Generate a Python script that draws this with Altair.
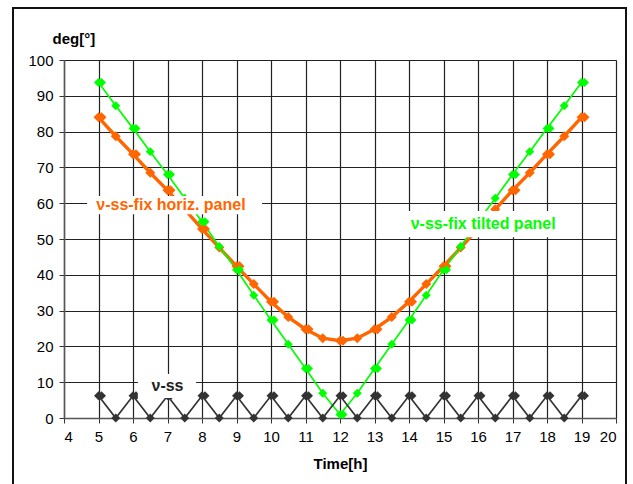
import altair as alt
import pandas as pd

# Hour of day (every half hour)
hours = [5, 5.5, 6, 6.5, 7, 7.5, 8, 8.5, 9, 9.5, 10, 10.5, 11, 11.5, 12,
         12.5, 13, 13.5, 14, 14.5, 15, 15.5, 16, 16.5, 17, 17.5, 18, 18.5, 19]

# Incidence angles in degrees
horiz_panel = [84.0, 78.7, 73.7, 68.5, 63.6, 58.3, 52.8, 47.6, 42.4, 37.4, 32.5, 28.2, 24.8, 22.3, 21.6,
               22.3, 24.8, 28.2, 32.5, 37.4, 42.4, 47.6, 52.8, 58.3, 63.6, 68.5, 73.7, 78.7, 84.0]
tilted_panel = [93.7, 87.2, 80.9, 74.4, 68.0, 61.4, 54.8, 47.9, 41.4, 34.3, 27.4, 20.6, 13.8, 6.9, 1.0,
                6.9, 13.8, 20.6, 27.4, 34.3, 41.4, 47.9, 54.8, 61.4, 68.0, 74.4, 80.9, 87.2, 93.7]
v_ss = [6.2, 0, 6.2, 0, 6.2, 0, 6.2, 0, 6.2, 0, 6.2, 0, 6.2, 0, 6.2,
        0, 6.2, 0, 6.2, 0, 6.2, 0, 6.2, 0, 6.2, 0, 6.2, 0, 6.2]

series_names = ["horiz", "tilted", "vss"]
series_colors = ["#FF6600", "#00FF00", "#333333"]

# Axis tick values
x_ticks = [4, 5, 6, 7, 8, 9, 10, 11, 12, 13, 14, 15, 16, 17, 18, 19, 20]
y_ticks = [0, 10, 20, 30, 40, 50, 60, 70, 80, 90, 100]

# Series labels: text, position, colour and white box extent
label_text = ["ν-ss-fix horiz. panel", "ν-ss-fix tilted panel", "ν-ss"]
label_x = [7.1, 16.15, 7.0]
label_y = [59.6, 54.1, 8.9]
label_color = ["#FF6600", "#00FF00", "#222222"]
box_x1 = [4.67, 13.88, 6.14]
box_x2 = [9.74, 18.38, 7.83]
box_y1 = [56.9, 50.5, 5.6]
box_y2 = [62.0, 57.8, 12.3]

rows = []
for name, vals in zip(series_names, [horiz_panel, tilted_panel, v_ss]):
    for t, v in zip(hours, vals):
        rows.append({"t": t, "v": v, "series": name, "hourly": float(t).is_integer()})
df = pd.DataFrame(rows)

labels = pd.DataFrame({
    "text": label_text, "x": label_x, "y": label_y, "color": label_color,
    "x1": box_x1, "x2": box_x2, "y1": box_y1, "y2": box_y2,
})

FONT = "Liberation Sans"

xscale = alt.Scale(domain=[4, 20], nice=False, zero=False)
yscale = alt.Scale(domain=[0, 100], nice=False)
color = alt.Color("series:N", scale=alt.Scale(domain=series_names, range=series_colors), legend=None)

xaxis = alt.Axis(values=x_ticks, title="Time[h]", grid=True, gridColor="#222222",
                 gridWidth=1.2, domainColor="#555555", domainWidth=1.5, tickColor="#333333",
                 tickSize=5, labelPadding=6, labelFontSize=15, labelColor="#000000",
                 labelOverlap=False, titleFontSize=15, titleFontWeight="bold", titleColor="#000000",
                 titleY=45, titleBaseline="middle", labelFont=FONT, titleFont=FONT)
yaxis = alt.Axis(values=y_ticks, title="deg[°]", grid=True, gridColor="#222222",
                 gridWidth=1.2, domainColor="#555555", domainWidth=1.5, tickColor="#333333",
                 tickSize=5, labelPadding=6, labelFontSize=15, labelColor="#000000",
                 labelOverlap=False, titleFontSize=15, titleFontWeight="bold", titleColor="#000000",
                 titleAngle=0, titleX=-12, titleY=-22, titleAlign="left", titleBaseline="middle",
                 labelFont=FONT, titleFont=FONT)

X = alt.X("t:Q", scale=xscale, axis=xaxis)
Y = alt.Y("v:Q", scale=yscale, axis=yaxis)

base = alt.Chart(df)

lines = base.mark_line().encode(
    x=X, y=Y, color=color,
    strokeWidth=alt.condition(alt.datum.series == "horiz", alt.value(3.4), alt.value(1.7)),
    detail="series:N",
)

marker_size = alt.condition(alt.datum.series == "horiz", alt.value(100), alt.value(80))

points = base.mark_point(shape="diamond", filled=True, opacity=1).encode(
    x=X, y=Y, color=color, size=marker_size,
)

# second marker drawn at each full hour
hourly_points = base.transform_filter(alt.datum.hourly).mark_point(
    shape="diamond", filled=True, opacity=1
).encode(
    x=X, y=Y, color=color, xOffset=alt.value(3), size=marker_size,
)

boxes = alt.Chart(labels).mark_rect(fill="white", stroke=None).encode(
    x=alt.X("x1:Q", scale=xscale, axis=xaxis), x2="x2:Q",
    y=alt.Y("y1:Q", scale=yscale, axis=yaxis), y2="y2:Q",
)

texts = alt.Chart(labels).mark_text(font=FONT, fontSize=16, fontWeight="bold").encode(
    x=alt.X("x:Q", scale=xscale, axis=xaxis),
    y=alt.Y("y:Q", scale=yscale, axis=yaxis),
    text="text:N", color=alt.Color("color:N", scale=None),
)

frame = alt.Chart(labels).transform_filter(alt.datum.text == "ν-ss").mark_rect(
    fill=None, stroke="#111111", strokeWidth=2
).encode(
    x=alt.value(-51), x2=alt.value(562), y=alt.value(-52), y2=alt.value(470)
)

chart = alt.layer(lines, points, hourly_points, boxes, texts, frame).properties(
    width=552, height=358,
    autosize=alt.AutoSizeParams(type="none"),
    padding={"left": 64, "top": 60, "right": 17, "bottom": 66},
    background="white",
).configure_view(stroke=None)

chart.save("out.html", embed_options={"renderer": "svg", "actions": False})
